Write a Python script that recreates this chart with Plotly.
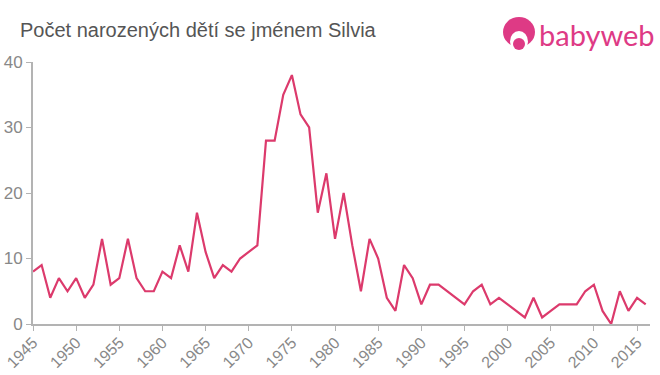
import plotly.graph_objects as go

years = list(range(1945, 2017))
counts = [8, 9, 4, 7, 5, 7, 4, 6, 13, 6, 7, 13, 7, 5, 5, 8, 7, 12, 8, 17,
          11, 7, 9, 8, 10, 11, 12, 28, 28, 35, 38, 32, 30, 17, 23, 13, 20, 12, 5, 13,
          10, 4, 2, 9, 7, 3, 6, 6, 5, 4, 3, 5, 6, 3, 4, 3, 2, 1, 4, 1,
          2, 3, 3, 3, 5, 6, 2, 0, 5, 2, 4, 3]
x_ticks = list(range(1945, 2016, 5))
y_ticks = [0, 10, 20, 30, 40]
title = "Počet narozených dětí se jménem Silvia"
brand = "babyweb"

W, H = 660, 375
ML, MR, MT, MB = 33, 10, 62, 51
px = lambda v: (v - ML) / (W - ML - MR)
py = lambda v: (H - MB - v) / (H - MT - MB)
PINK = "#de3a85"

def circle(x0, y0, x1, y1, color):
    return dict(type="circle", xref="paper", yref="paper", x0=px(x0), x1=px(x1),
                y0=py(y1), y1=py(y0), fillcolor=color, line_width=0, layer="above")

fig = go.Figure(go.Scatter(x=years, y=counts, mode="lines",
                           line=dict(color="#dc3a6c", width=2.2), hoverinfo="skip"))
shapes = [
    circle(503, 17, 535, 47, PINK),
    circle(510, 31, 528, 52, "#ffffff"),
    circle(513, 38, 525, 50, PINK),
]
fig.update_layout(
    width=W, height=H, autosize=False,
    margin=dict(l=ML, r=MR, t=MT, b=MB),
    paper_bgcolor="white", plot_bgcolor="white",
    showlegend=False,
    font=dict(family="Liberation Sans, Arial, sans-serif", color="#888888"),
    shapes=shapes,
    annotations=[
        dict(text=title, xref="paper", yref="paper", x=px(18), y=py(30), xanchor="left",
             yanchor="middle", showarrow=False, font=dict(size=20, color="#555555")),
        dict(text=brand, xref="paper", yref="paper", x=px(537), y=py(34), xanchor="left",
             yanchor="middle", showarrow=False,
             font=dict(size=29, color=PINK, family="Lato, sans-serif")),
    ],
)
fig.update_xaxes(range=[1945, 2016.5], tickvals=x_ticks, ticktext=[str(v) for v in x_ticks],
                 tickangle=-45, ticks="outside", ticklen=5, tickwidth=1, tickcolor="#b3b3b3",
                 showline=True, linecolor="#b3b3b3", linewidth=2, showgrid=False, zeroline=False,
                 tickfont=dict(size=16, color="#888888"), automargin=False,
                 ticklabelstandoff=-4)
fig.update_yaxes(range=[0, 40], tickvals=y_ticks, ticks="outside", ticklen=5, tickwidth=1,
                 tickcolor="#b3b3b3", showline=True, linecolor="#b3b3b3", linewidth=2,
                 showgrid=False, zeroline=False, tickfont=dict(size=17, color="#888888"),
                 automargin=False)
fig.write_html("out.html", config={"displayModeBar": False},
               post_script="document.body.style.margin='0';document.body.style.overflow='hidden';")
